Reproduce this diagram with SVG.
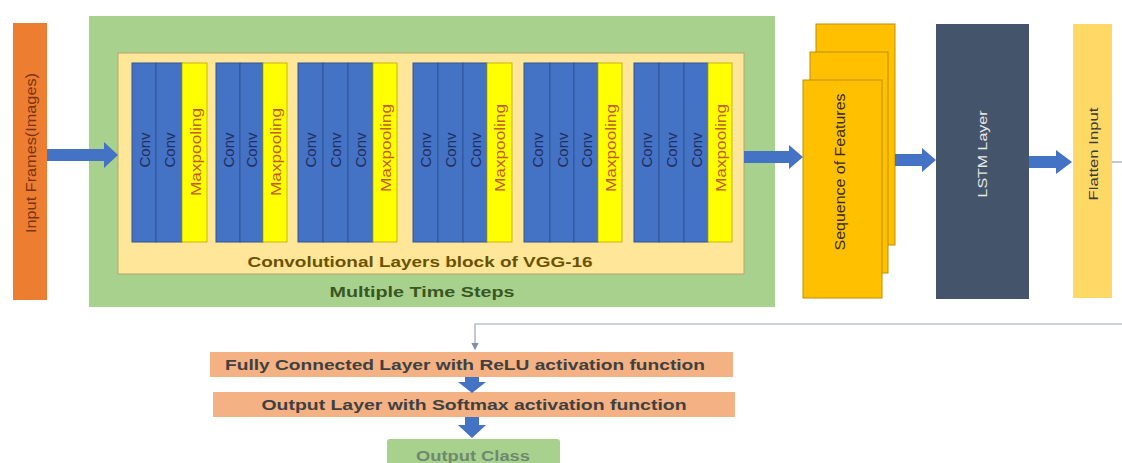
<svg xmlns="http://www.w3.org/2000/svg" width="1122" height="463" viewBox="0 0 1122 463">
<defs>
<style>
text{font-family:"Liberation Sans",Arial,sans-serif}
.conv{fill:#4472c4;stroke:#2f5597;stroke-width:1}
.mp{fill:#ffff00;stroke:#b8a800;stroke-width:0.8}
.ct{fill:#1f2f5f;font-size:15px}
.mt{fill:#c55a11;font-size:15px}
.barrow{fill:#4472c4}
.lbl{font-weight:bold;fill:#404040;font-size:15px}
.seq{fill:#ffc000;stroke:#bf9000;stroke-width:1}
</style>
<marker id="sm" viewBox="0 0 6 6" refX="5" refY="3" markerWidth="6" markerHeight="6" orient="auto"><path d="M0,0L6,3L0,6z" fill="#7f8fa8"/></marker>
</defs>
<rect width="1122" height="463" fill="#ffffff"/>

<g id="input">
<rect x="13" y="23" width="34" height="277" fill="#ed7d31"/>
<text transform="translate(31,153) rotate(-90)" text-anchor="middle" dominant-baseline="central" font-size="14" fill="#7a3510" textLength="160" lengthAdjust="spacingAndGlyphs">Input Frames(Images)</text>
</g>

<g id="timesteps">
<rect x="89" y="16" width="686" height="291" fill="#a9d18e"/>
<text x="422" y="297" text-anchor="middle" font-size="15" font-weight="bold" fill="#385723" textLength="185" lengthAdjust="spacingAndGlyphs">Multiple Time Steps</text>
</g>

<g id="vgg">
<rect x="118" y="53" width="626" height="221" fill="#ffe699" stroke="#b5a46a" stroke-width="1"/>
<text x="420" y="267" text-anchor="middle" font-size="15" font-weight="bold" fill="#6b5200" textLength="345" lengthAdjust="spacingAndGlyphs">Convolutional Layers block of VGG-16</text>
</g>

<g id="block1">
<rect class="conv" x="132" y="63" width="24" height="179"/>
<rect class="conv" x="156" y="63" width="26" height="179"/>
<rect class="mp" x="182" y="63" width="25" height="179"/>
<text class="ct" transform="translate(144,150) rotate(-90)" text-anchor="middle" dominant-baseline="central">Conv</text>
<text class="ct" transform="translate(169,150) rotate(-90)" text-anchor="middle" dominant-baseline="central">Conv</text>
<text class="mt" transform="translate(195,152) rotate(-90)" text-anchor="middle" dominant-baseline="central" textLength="88" lengthAdjust="spacingAndGlyphs">Maxpooling</text>
</g>

<g id="block2">
<rect class="conv" x="216" y="63" width="24" height="179"/>
<rect class="conv" x="240" y="63" width="23" height="179"/>
<rect class="mp" x="263" y="63" width="24" height="179"/>
<text class="ct" transform="translate(228,150) rotate(-90)" text-anchor="middle" dominant-baseline="central">Conv</text>
<text class="ct" transform="translate(251.5,150) rotate(-90)" text-anchor="middle" dominant-baseline="central">Conv</text>
<text class="mt" transform="translate(275,152) rotate(-90)" text-anchor="middle" dominant-baseline="central" textLength="88" lengthAdjust="spacingAndGlyphs">Maxpooling</text>
</g>

<g id="block3">
<rect class="conv" x="298" y="63" width="25" height="179"/>
<rect class="conv" x="323" y="63" width="25" height="179"/>
<rect class="conv" x="348" y="63" width="25" height="179"/>
<rect class="mp" x="373" y="63" width="24" height="179"/>
<text class="ct" transform="translate(310.5,150) rotate(-90)" text-anchor="middle" dominant-baseline="central">Conv</text>
<text class="ct" transform="translate(335.5,150) rotate(-90)" text-anchor="middle" dominant-baseline="central">Conv</text>
<text class="ct" transform="translate(360.5,150) rotate(-90)" text-anchor="middle" dominant-baseline="central">Conv</text>
<text class="mt" transform="translate(385,148) rotate(-90)" text-anchor="middle" dominant-baseline="central" textLength="88" lengthAdjust="spacingAndGlyphs">Maxpooling</text>
</g>

<g id="block4">
<rect class="conv" x="413" y="63" width="25" height="179"/>
<rect class="conv" x="438" y="63" width="25" height="179"/>
<rect class="conv" x="463" y="63" width="24" height="179"/>
<rect class="mp" x="487" y="63" width="25" height="179"/>
<text class="ct" transform="translate(425.5,150) rotate(-90)" text-anchor="middle" dominant-baseline="central">Conv</text>
<text class="ct" transform="translate(450.5,150) rotate(-90)" text-anchor="middle" dominant-baseline="central">Conv</text>
<text class="ct" transform="translate(475,150) rotate(-90)" text-anchor="middle" dominant-baseline="central">Conv</text>
<text class="mt" transform="translate(499.5,148) rotate(-90)" text-anchor="middle" dominant-baseline="central" textLength="88" lengthAdjust="spacingAndGlyphs">Maxpooling</text>
</g>

<g id="block5">
<rect class="conv" x="524" y="63" width="26" height="179"/>
<rect class="conv" x="550" y="63" width="24" height="179"/>
<rect class="conv" x="574" y="63" width="24" height="179"/>
<rect class="mp" x="598" y="63" width="24" height="179"/>
<text class="ct" transform="translate(537,150) rotate(-90)" text-anchor="middle" dominant-baseline="central">Conv</text>
<text class="ct" transform="translate(562,150) rotate(-90)" text-anchor="middle" dominant-baseline="central">Conv</text>
<text class="ct" transform="translate(586,150) rotate(-90)" text-anchor="middle" dominant-baseline="central">Conv</text>
<text class="mt" transform="translate(610,148) rotate(-90)" text-anchor="middle" dominant-baseline="central" textLength="88" lengthAdjust="spacingAndGlyphs">Maxpooling</text>
</g>

<g id="block6">
<rect class="conv" x="634" y="63" width="25" height="179"/>
<rect class="conv" x="659" y="63" width="25" height="179"/>
<rect class="conv" x="684" y="63" width="24" height="179"/>
<rect class="mp" x="708" y="63" width="24" height="179"/>
<text class="ct" transform="translate(646.5,150) rotate(-90)" text-anchor="middle" dominant-baseline="central">Conv</text>
<text class="ct" transform="translate(671.5,150) rotate(-90)" text-anchor="middle" dominant-baseline="central">Conv</text>
<text class="ct" transform="translate(696,150) rotate(-90)" text-anchor="middle" dominant-baseline="central">Conv</text>
<text class="mt" transform="translate(720,148) rotate(-90)" text-anchor="middle" dominant-baseline="central" textLength="88" lengthAdjust="spacingAndGlyphs">Maxpooling</text>
</g>

<g id="sequence">
<rect class="seq" x="816" y="24" width="79" height="221"/>
<rect class="seq" x="810" y="52" width="78" height="221"/>
<rect class="seq" x="803" y="80" width="79" height="218"/>
<text transform="translate(840,172) rotate(-90)" text-anchor="middle" dominant-baseline="central" font-size="14" fill="#3b2c00" textLength="157" lengthAdjust="spacingAndGlyphs">Sequence of Features</text>
</g>

<g id="lstm">
<rect x="936" y="24" width="93" height="275" fill="#44546a"/>
<text transform="translate(982,154) rotate(-90)" text-anchor="middle" dominant-baseline="central" font-size="13" fill="#e8e8e8" textLength="87" lengthAdjust="spacingAndGlyphs">LSTM Layer</text>
</g>

<g id="flatten">
<rect x="1073" y="24" width="39" height="274" fill="#ffd966"/>
<text transform="translate(1093,154) rotate(-90)" text-anchor="middle" dominant-baseline="central" font-size="13" fill="#3b3b3b" textLength="93" lengthAdjust="spacingAndGlyphs">Flatten Input</text>
</g>

<g id="fc">
<rect x="210" y="352" width="523" height="25" fill="#f4b183"/>
<text class="lbl" x="465" y="370" text-anchor="middle" textLength="480" lengthAdjust="spacingAndGlyphs">Fully Connected Layer with ReLU activation function</text>
</g>

<g id="outlayer">
<rect x="213" y="392" width="522" height="25" fill="#f4b183"/>
<text class="lbl" x="474" y="410" text-anchor="middle" textLength="425" lengthAdjust="spacingAndGlyphs">Output Layer with Softmax activation function</text>
</g>

<g id="outclass">
<rect x="387" y="439" width="173" height="30" rx="3" fill="#a9d18e"/>
<text x="473" y="461" text-anchor="middle" font-size="14" font-weight="bold" fill="#6e8a6e" textLength="114" lengthAdjust="spacingAndGlyphs">Output Class</text>
</g>

<g id="connectors">
<path class="barrow" d="M47,149 H104 V142 L118,155 L104,168 V161 H47 Z"/>
<path class="barrow" d="M744,151 H789 V145 L803,157 L789,169 V163 H744 Z"/>
<path class="barrow" d="M895,154 H922 V148 L936,160 L922,172 V166 H895 Z"/>
<path class="barrow" d="M1029,156 H1056 V150 L1072,162 L1056,174 V168 H1029 Z"/>
<path class="barrow" d="M465,377 H479 V382 H486 L472,393 L458,382 H465 Z"/>
<path class="barrow" d="M465,417 H479 V425 H486 L472,438 L458,425 H465 Z"/>
<path d="M1112,162 H1122" fill="none" stroke="#9aa6b8" stroke-width="1.2"/>
<path d="M1122,324 H475 V349" fill="none" stroke="#9aa6b8" stroke-width="1.2" marker-end="url(#sm)"/>
</g>
</svg>
